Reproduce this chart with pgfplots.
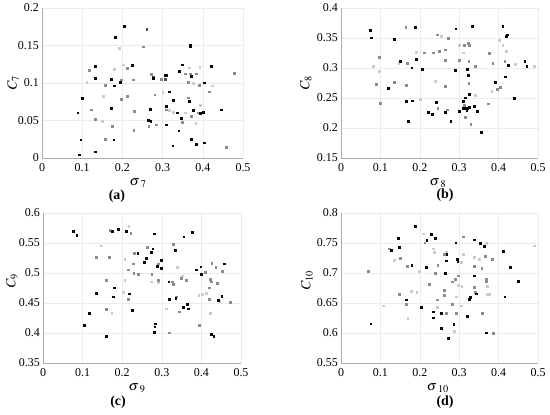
\documentclass[border=0pt]{standalone}
\usepackage{mathptmx}
\usepackage{fontspec}
\setmainfont{Liberation Serif}
\usepackage{pgfplots}
\pgfplotsset{compat=1.18}
\definecolor{ck}{gray}{0.03}
\definecolor{cd}{gray}{0.30}
\definecolor{cm}{gray}{0.55}
\definecolor{cl}{gray}{0.80}
\pgfplotsset{
  myax/.style={
    scale only axis, height=150bp,
    axis x line*=bottom, axis y line*=left,
    axis line style={-, draw=gray!65, line width=0.6bp},
    grid=major, grid style={draw=gray!15, line width=0.5bp},
    major tick length=0pt,
    xmin=0, xmax=0.5, xtick={0,0.1,0.2,0.3,0.4,0.5},
    xticklabels={0,0.1,0.2,0.3,0.4,0.5},
    ticklabel style={font=\fontsize{12}{13}\selectfont, inner sep=0.5bp},
    xticklabel style={yshift=-5bp},
    yticklabel style={xshift=-2.5bp},
    label style={font=\fontsize{14}{15}\selectfont, inner sep=0.5bp},
    title style={font=\fontsize{14}{15}\selectfont\bfseries, anchor=center, inner sep=0.5bp},
    every axis plot/.append style={only marks, mark=square*, mark size=0.9bp, mark options={line width=0pt}},
  },
  pk/.style={color=ck}, pd/.style={color=cd}, pm/.style={color=cm}, pl/.style={color=cl},
}
\begin{document}
\begin{tikzpicture}[x=1bp,y=1bp]
\useasboundingbox (0,0) rectangle (550,414);
% (a)
\begin{axis}[myax, at={(42bp,256bp)}, anchor=south west, width=201bp,
  ymin=0, ymax=0.2, ytick={0,0.05,0.1,0.15,0.2}, yticklabels={0,0.05,0.1,0.15,0.2},
  xlabel={$\sigma\mkern1.5mu_7$}, ylabel={$C_7$},
  xlabel style={at={(axis description cs:0.478,-0.165)}, anchor=center},
  ylabel style={at={(axis description cs:-0.144,0.5)}, anchor=center},
  title={(a)}, title style={at={(axis description cs:0.373,-0.293)}}]
\addplot[pl] coordinates {(0.193,0.146)(0.181,0.118)(0.203,0.124)(0.112,0.101)(0.152,0.082)(0.150,0.049)(0.301,0.087)(0.318,0.063)(0.327,0.061)(0.367,0.120)(0.377,0.099)(0.393,0.121)(0.357,0.060)(0.395,0.070)(0.383,0.046)(0.425,0.096)};
\addplot[pm] coordinates {(0.253,0.148)(0.118,0.117)(0.213,0.119)(0.158,0.097)(0.197,0.104)(0.228,0.104)(0.213,0.082)(0.198,0.078)(0.124,0.064)(0.1335,0.051)(0.175,0.042)(0.157,0.025)(0.230,0.062)(0.229,0.037)(0.272,0.111)(0.298,0.105)(0.281,0.084)(0.310,0.064)(0.266,0.042)(0.285,0.044)(0.356,0.112)(0.369,0.112)(0.364,0.101)(0.385,0.112)(0.392,0.097)(0.365,0.080)(0.371,0.055)(0.349,0.047)(0.388,0.060)(0.417,0.088)(0.458,0.014)(0.479,0.113)};
\addplot[pd] coordinates {(0.261,0.1716)(0.278,0.108)(0.307,0.105)};
\addplot[pk] coordinates {(0.206,0.175)(0.183,0.161)(0.369,0.150)(0.369,0.148)(0.1335,0.122)(0.225,0.123)(0.1335,0.106)(0.101,0.079)(0.172,0.105)(0.181,0.096)(0.195,0.101)(0.172,0.066)(0.0896,0.060)(0.179,0.024)(0.097,0.024)(0.094,0.004)(0.134,0.008)(0.278,0.106)(0.309,0.110)(0.306,0.110)(0.318,0.088)(0.328,0.077)(0.309,0.069)(0.270,0.065)(0.265,0.050)(0.271,0.049)(0.310,0.044)(0.342,0.115)(0.350,0.124)(0.371,0.109)(0.404,0.100)(0.366,0.075)(0.376,0.063)(0.347,0.053)(0.338,0.060)(0.394,0.059)(0.401,0.061)(0.341,0.036)(0.326,0.016)(0.372,0.025)(0.384,0.018)(0.405,0.020)(0.421,0.122)(0.446,0.064)};
\end{axis}
% (b)
\begin{axis}[myax, at={(341bp,256bp)}, anchor=south west, width=197bp,
  ymin=0.15, ymax=0.4, ytick={0.15,0.2,0.25,0.3,0.35,0.4}, yticklabels={0.15,0.2,0.25,0.3,0.35,0.4},
  xlabel={$\sigma\mkern1.5mu_8$}, ylabel={$C_8$},
  xlabel style={at={(axis description cs:0.492,-0.165)}, anchor=center},
  ylabel style={at={(axis description cs:-0.178,0.5)}, anchor=center},
  title={(b)}, title style={at={(axis description cs:0.528,-0.29)}}]
\addplot[pl] coordinates {(0.083,0.303)(0.097,0.294)(0.147,0.307)(0.191,0.326)(0.202,0.248)(0.256,0.353)(0.239,0.277)(0.301,0.337)(0.310,0.325)(0.341,0.254)(0.383,0.261)(0.402,0.346)(0.411,0.338)(0.443,0.306)(0.492,0.303)(0.420,0.328)};
\addplot[pm] coordinates {(0.090,0.272)(0.097,0.318)(0.101,0.241)(0.135,0.276)(0.165,0.367)(0.168,0.308)(0.167,0.271)(0.211,0.325)(0.235,0.325)(0.244,0.355)(0.250,0.328)(0.266,0.330)(0.265,0.313)(0.273,0.349)(0.246,0.232)(0.271,0.230)(0.265,0.269)(0.300,0.312)(0.313,0.337)(0.324,0.341)(0.327,0.338)(0.325,0.311)(0.325,0.274)(0.313,0.238)(0.316,0.218)(0.330,0.206)(0.342,0.302)(0.376,0.324)(0.386,0.308)(0.375,0.240)(0.398,0.264)(0.405,0.267)(0.416,0.311)};
\addplot[pk] coordinates {(0.075,0.363)(0.078,0.350)(0.136,0.348)(0.120,0.266)(0.150,0.311)(0.190,0.367)(0.180,0.300)(0.191,0.314)(0.167,0.244)(0.181,0.245)(0.171,0.211)(0.206,0.297)(0.243,0.242)(0.222,0.226)(0.233,0.223)(0.266,0.226)(0.279,0.211)(0.292,0.365)(0.290,0.296)(0.300,0.227)(0.321,0.297)(0.324,0.288)(0.327,0.256)(0.316,0.250)(0.310,0.244)(0.310,0.233)(0.313,0.232)(0.322,0.232)(0.327,0.234)(0.320,0.229)(0.338,0.236)(0.346,0.227)(0.357,0.193)(0.334,0.369)(0.393,0.276)(0.417,0.285)(0.411,0.369)(0.420,0.352)(0.423,0.355)(0.426,0.304)(0.441,0.249)(0.467,0.311)(0.472,0.303)};
\end{axis}
% (c)
\begin{axis}[myax, at={(43bp,51bp)}, anchor=south west, width=198bp,
  ymin=0.35, ymax=0.6, ytick={0.35,0.4,0.45,0.5,0.55,0.6}, yticklabels={0.35,0.4,0.45,0.5,0.55,0.6},
  xlabel={$\sigma\mkern1.5mu_9$}, ylabel={$C_9$},
  xlabel style={at={(axis description cs:0.475,-0.165)}, anchor=center},
  ylabel style={at={(axis description cs:-0.157,0.55)}, anchor=center},
  title={(c)}, title style={at={(axis description cs:0.379,-0.303)}}]
\addplot[pl] coordinates {(0.147,0.545)(0.174,0.432)(0.217,0.577)(0.207,0.522)(0.207,0.487)(0.204,0.468)(0.273,0.485)(0.292,0.484)(0.311,0.440)(0.339,0.509)(0.353,0.495)(0.394,0.463)(0.403,0.464)(0.412,0.466)(0.422,0.433)(0.446,0.453)};
\addplot[pm] coordinates {(0.135,0.526)(0.160,0.488)(0.161,0.439)(0.167,0.526)(0.169,0.571)(0.222,0.566)(0.215,0.505)(0.215,0.456)(0.228,0.515)(0.230,0.499)(0.231,0.533)(0.242,0.498)(0.264,0.543)(0.275,0.497)(0.291,0.515)(0.291,0.487)(0.319,0.400)(0.328,0.485)(0.330,0.481)(0.329,0.548)(0.338,0.460)(0.345,0.435)(0.349,0.491)(0.362,0.487)(0.395,0.412)(0.411,0.501)(0.421,0.456)(0.421,0.475)(0.422,0.489)(0.425,0.485)(0.427,0.516)(0.437,0.509)(0.441,0.482)(0.454,0.503)(0.474,0.451)};
\addplot[pk] coordinates {(0.078,0.569)(0.086,0.562)(0.104,0.413)(0.118,0.432)(0.135,0.466)(0.161,0.394)(0.176,0.569)(0.190,0.573)(0.179,0.460)(0.181,0.475)(0.211,0.569)(0.218,0.465)(0.227,0.437)(0.240,0.533)(0.256,0.518)(0.261,0.524)(0.274,0.534)(0.278,0.540)(0.281,0.565)(0.290,0.511)(0.299,0.521)(0.299,0.507)(0.281,0.401)(0.283,0.410)(0.285,0.415)(0.318,0.485)(0.320,0.456)(0.335,0.537)(0.336,0.458)(0.355,0.442)(0.356,0.560)(0.365,0.448)(0.367,0.440)(0.378,0.568)(0.388,0.505)(0.399,0.510)(0.400,0.498)(0.426,0.398)(0.432,0.394)(0.443,0.454)(0.452,0.461)(0.458,0.515)};
\end{axis}
% (d)
\begin{axis}[myax, at={(341bp,51bp)}, anchor=south west, width=197bp,
  ymin=0.55, ymax=0.8, ytick={0.55,0.6,0.65,0.7,0.75,0.8}, yticklabels={0.55,0.6,0.65,0.7,0.75,0.8},
  xlabel={$\sigma\mkern1.5mu_{10}$}, ylabel={$C_{10}$},
  xlabel style={at={(axis description cs:0.492,-0.165)}, anchor=center},
  ylabel style={at={(axis description cs:-0.173,0.55)}, anchor=center},
  title={(d)}, title style={at={(axis description cs:0.528,-0.30)}}]
\addplot[pl] coordinates {(0.107,0.645)(0.135,0.721)(0.170,0.624)(0.179,0.669)(0.193,0.668)(0.199,0.702)(0.210,0.765)(0.234,0.740)(0.238,0.734)(0.245,0.642)(0.267,0.735)(0.289,0.603)(0.293,0.660)(0.299,0.679)(0.305,0.718)(0.307,0.677)(0.305,0.645)(0.311,0.731)(0.339,0.726)(0.352,0.722)(0.370,0.749)(0.371,0.678)(0.371,0.664)(0.376,0.664)(0.491,0.745)};
\addplot[pm] coordinates {(0.070,0.703)(0.124,0.740)(0.151,0.724)(0.149,0.664)(0.166,0.648)(0.169,0.711)(0.213,0.750)(0.224,0.681)(0.239,0.699)(0.246,0.712)(0.244,0.655)(0.263,0.731)(0.262,0.671)(0.263,0.663)(0.267,0.632)(0.282,0.685)(0.283,0.648)(0.290,0.689)(0.294,0.632)(0.299,0.695)(0.310,0.760)(0.339,0.711)(0.339,0.676)(0.342,0.667)(0.358,0.707)(0.360,0.633)(0.366,0.727)(0.369,0.689)(0.369,0.685)(0.387,0.599)(0.385,0.722)};
\addplot[pk] coordinates {(0.076,0.615)(0.129,0.737)(0.145,0.757)(0.149,0.743)(0.166,0.655)(0.180,0.712)(0.190,0.777)(0.205,0.643)(0.218,0.754)(0.217,0.709)(0.230,0.764)(0.240,0.757)(0.235,0.635)(0.235,0.625)(0.255,0.608)(0.256,0.632)(0.269,0.731)(0.268,0.720)(0.265,0.699)(0.273,0.591)(0.287,0.614)(0.292,0.750)(0.296,0.722)(0.297,0.719)(0.321,0.627)(0.327,0.656)(0.329,0.659)(0.338,0.755)(0.339,0.695)(0.343,0.665)(0.354,0.749)(0.364,0.744)(0.370,0.600)(0.413,0.736)(0.416,0.660)(0.431,0.709)(0.450,0.686)};
\end{axis}
\end{tikzpicture}
\end{document}
